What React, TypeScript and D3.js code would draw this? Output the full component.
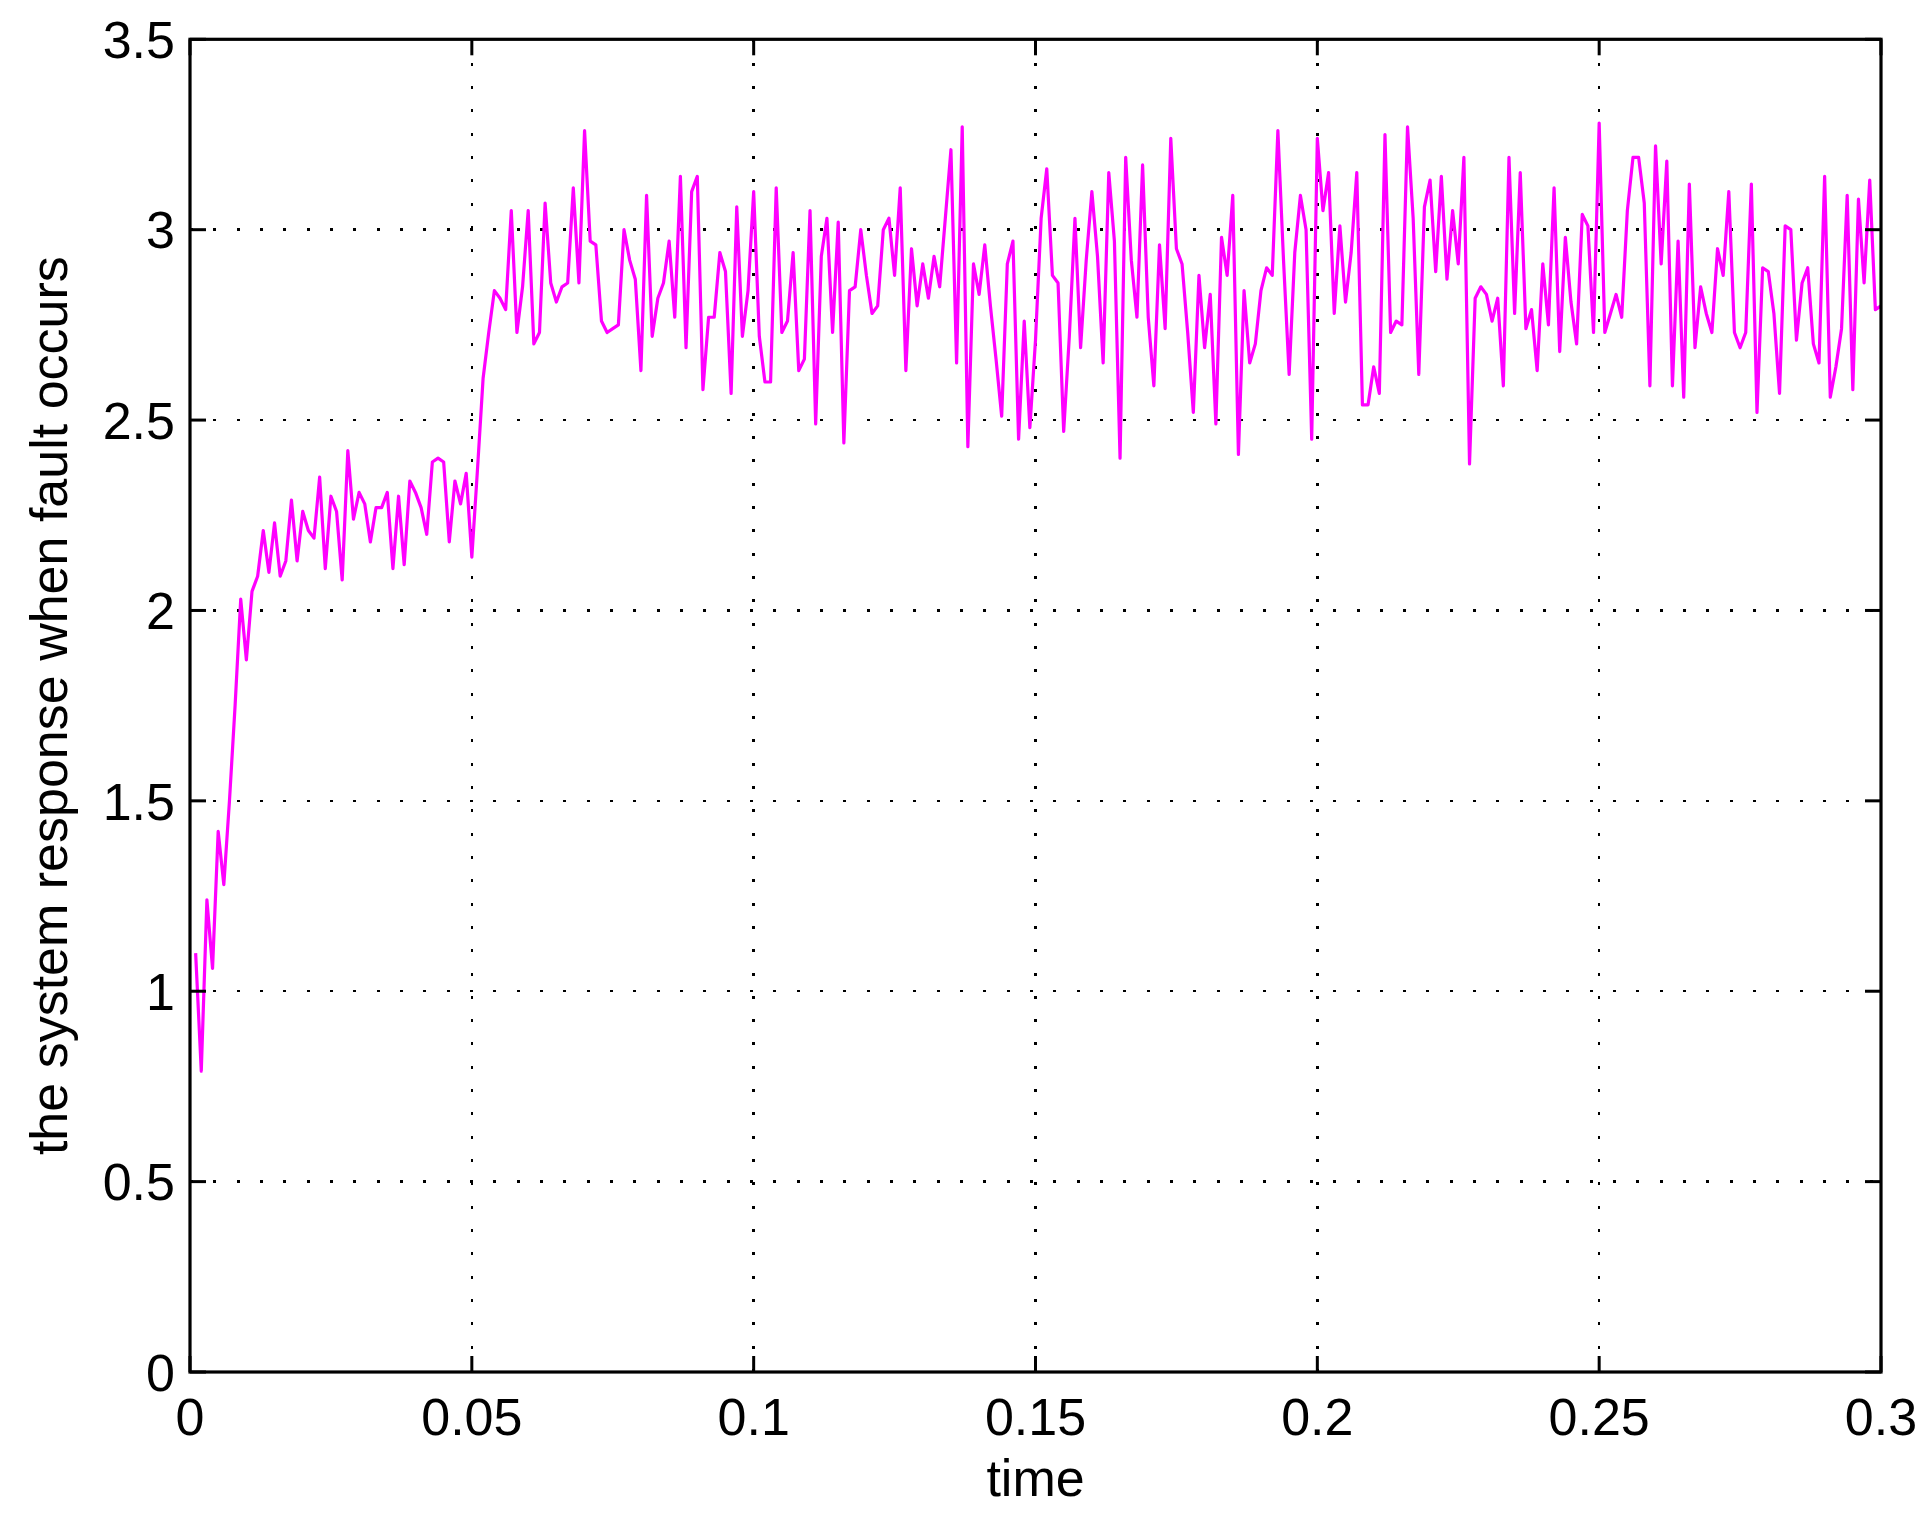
import React from "react";
import * as d3 from "d3";

// Sampled response, one value per millisecond (t = 0.001 ... 0.300)
const response001to050 = [
  1.10, 0.79, 1.24, 1.06, 1.42, 1.28, 1.50, 1.75, 2.03, 1.87,
  2.05, 2.09, 2.21, 2.10, 2.23, 2.09, 2.13, 2.29, 2.13, 2.26,
  2.21, 2.19, 2.35, 2.11, 2.30, 2.26, 2.08, 2.42, 2.24, 2.31,
  2.28, 2.18, 2.27, 2.27, 2.31, 2.11, 2.30, 2.12, 2.34, 2.31,
  2.27, 2.20, 2.39, 2.40, 2.39, 2.18, 2.34, 2.28, 2.36, 2.14,
];
const response051to100 = [
  2.37, 2.61, 2.73, 2.84, 2.82, 2.79, 3.05, 2.73, 2.85, 3.05,
  2.70, 2.73, 3.07, 2.86, 2.81, 2.85, 2.86, 3.11, 2.86, 3.26,
  2.97, 2.96, 2.76, 2.73, 2.74, 2.75, 3.00, 2.92, 2.87, 2.63,
  3.09, 2.72, 2.82, 2.86, 2.97, 2.77, 3.14, 2.69, 3.10, 3.14,
  2.58, 2.77, 2.77, 2.94, 2.89, 2.57, 3.06, 2.72, 2.84, 3.10,
];
const response101to150 = [
  2.72, 2.60, 2.60, 3.11, 2.73, 2.76, 2.94, 2.63, 2.66, 3.05,
  2.49, 2.93, 3.03, 2.73, 3.02, 2.44, 2.84, 2.85, 3.00, 2.88,
  2.78, 2.80, 3.00, 3.03, 2.88, 3.11, 2.63, 2.95, 2.80, 2.91,
  2.82, 2.93, 2.85, 3.03, 3.21, 2.65, 3.27, 2.43, 2.91, 2.83,
  2.96, 2.80, 2.66, 2.51, 2.91, 2.97, 2.45, 2.76, 2.48, 2.71,
];
const response151to200 = [
  3.03, 3.16, 2.88, 2.86, 2.47, 2.72, 3.03, 2.69, 2.92, 3.10,
  2.93, 2.65, 3.15, 2.97, 2.40, 3.19, 2.92, 2.77, 3.17, 2.77,
  2.59, 2.96, 2.74, 3.24, 2.95, 2.91, 2.73, 2.52, 2.88, 2.69,
  2.83, 2.49, 2.98, 2.88, 3.09, 2.41, 2.84, 2.65, 2.70, 2.84,
  2.90, 2.88, 3.26, 2.92, 2.62, 2.94, 3.09, 3.00, 2.45, 3.24,
];
const response201to250 = [
  3.05, 3.15, 2.78, 3.01, 2.81, 2.94, 3.15, 2.54, 2.54, 2.64,
  2.57, 3.25, 2.73, 2.76, 2.75, 3.27, 3.03, 2.62, 3.06, 3.13,
  2.89, 3.14, 2.87, 3.05, 2.91, 3.19, 2.385, 2.82, 2.85, 2.83,
  2.76, 2.82, 2.59, 3.19, 2.78, 3.15, 2.74, 2.79, 2.63, 2.91,
  2.75, 3.11, 2.68, 2.98, 2.81, 2.70, 3.04, 3.01, 2.73, 3.28,
];
const response251to300 = [
  2.73, 2.78, 2.83, 2.77, 3.05, 3.19, 3.19, 3.07, 2.59, 3.22,
  2.91, 3.18, 2.59, 2.97, 2.56, 3.12, 2.69, 2.85, 2.78, 2.73,
  2.95, 2.88, 3.10, 2.73, 2.69, 2.73, 3.12, 2.52, 2.90, 2.89,
  2.78, 2.57, 3.01, 3.00, 2.71, 2.86, 2.90, 2.70, 2.65, 3.14,
  2.56, 2.64, 2.74, 3.09, 2.58, 3.08, 2.86, 3.13, 2.79, 2.80,
];

const sampleStep = 0.001;
const xTicks = [0, 0.05, 0.1, 0.15, 0.2, 0.25, 0.3];
const xTickLabels = ["0", "0.05", "0.1", "0.15", "0.2", "0.25", "0.3"];
const yTicks = [0, 0.5, 1, 1.5, 2, 2.5, 3, 3.5];
const yTickLabels = ["0", "0.5", "1", "1.5", "2", "2.5", "3", "3.5"];
const xLabel = "time";
const yLabel = "the system response when fault occurs";

const W = 1928;
const H = 1531;
const LEFT = 190;
const RIGHT = 1881;
const TOP = 39.3;
const BOTTOM = 1372;
const FONT = "'Liberation Sans', Arial, Helvetica, sans-serif";
const FS = 52;
const TICK = 16;

export default function App() {
  const values = [
    ...response001to050,
    ...response051to100,
    ...response101to150,
    ...response151to200,
    ...response201to250,
    ...response251to300,
  ];
  const data = values.map((v, i) => ({ t: (i + 1) * sampleStep, v }));

  const x = d3.scaleLinear().domain([0, 0.3]).range([LEFT, RIGHT]);
  const y = d3.scaleLinear().domain([0, 3.5]).range([BOTTOM, TOP]);

  const line = d3
    .line<{ t: number; v: number }>()
    .x((d) => x(d.t))
    .y((d) => y(d.v));

  return (
    <svg
      width={W}
      height={H}
      viewBox={`0 0 ${W} ${H}`}
      style={{ position: "absolute", left: 0, top: 0, background: "#fff" }}
    >
      <rect x={0} y={0} width={W} height={H} fill="#fff" />
      {/* grid */}
      {xTicks.slice(1, -1).map((t) => (
        <line
          key={"gx" + t}
          x1={x(t)}
          x2={x(t)}
          y1={TOP}
          y2={BOTTOM}
          stroke="#000"
          strokeWidth={2.5}
          strokeDasharray="3 20.33"
          shapeRendering="crispEdges"
        />
      ))}
      {yTicks.slice(1, -1).map((v) => (
        <line
          key={"gy" + v}
          x1={LEFT}
          x2={RIGHT}
          y1={y(v)}
          y2={y(v)}
          stroke="#000"
          strokeWidth={2.5}
          strokeDasharray="3 20.33"
          shapeRendering="crispEdges"
        />
      ))}
      {/* data line */}
      <path
        d={line(data) || ""}
        fill="none"
        stroke="#ff00ff"
        strokeWidth={3.2}
        strokeLinejoin="round"
      />
      {/* ticks */}
      {xTicks.map((t) => (
        <g key={"tx" + t}>
          <line x1={x(t)} x2={x(t)} y1={BOTTOM} y2={BOTTOM - TICK} stroke="#000" strokeWidth={3} />
          <line x1={x(t)} x2={x(t)} y1={TOP} y2={TOP + TICK} stroke="#000" strokeWidth={3} />
        </g>
      ))}
      {yTicks.map((v) => (
        <g key={"ty" + v}>
          <line x1={LEFT} x2={LEFT + TICK} y1={y(v)} y2={y(v)} stroke="#000" strokeWidth={3} />
          <line x1={RIGHT} x2={RIGHT - TICK} y1={y(v)} y2={y(v)} stroke="#000" strokeWidth={3} />
        </g>
      ))}
      {/* axes box */}
      <rect
        x={LEFT}
        y={TOP}
        width={RIGHT - LEFT}
        height={BOTTOM - TOP}
        fill="none"
        stroke="#000"
        strokeWidth={3.2}
      />
      {/* tick labels */}
      {xTicks.map((t, i) => (
        <text
          key={"lx" + t}
          x={x(t)}
          y={1435}
          textAnchor="middle"
          fontFamily={FONT}
          fontSize={FS}
          fill="#000"
        >
          {xTickLabels[i]}
        </text>
      ))}
      {yTicks.map((v, i) => (
        <text
          key={"ly" + v}
          x={175}
          y={y(v)}
          dy="0.36em"
          textAnchor="end"
          fontFamily={FONT}
          fontSize={FS}
          fill="#000"
        >
          {yTickLabels[i]}
        </text>
      ))}
      {/* axis labels */}
      <text
        x={(LEFT + RIGHT) / 2}
        y={1496}
        textAnchor="middle"
        fontFamily={FONT}
        fontSize={FS}
        fill="#000"
      >
        {xLabel}
      </text>
      <text
        transform={`translate(67, ${(TOP + BOTTOM) / 2}) rotate(-90)`}
        textAnchor="middle"
        fontFamily={FONT}
        fontSize={FS}
        fill="#000"
      >
        {yLabel}
      </text>
    </svg>
  );
}
